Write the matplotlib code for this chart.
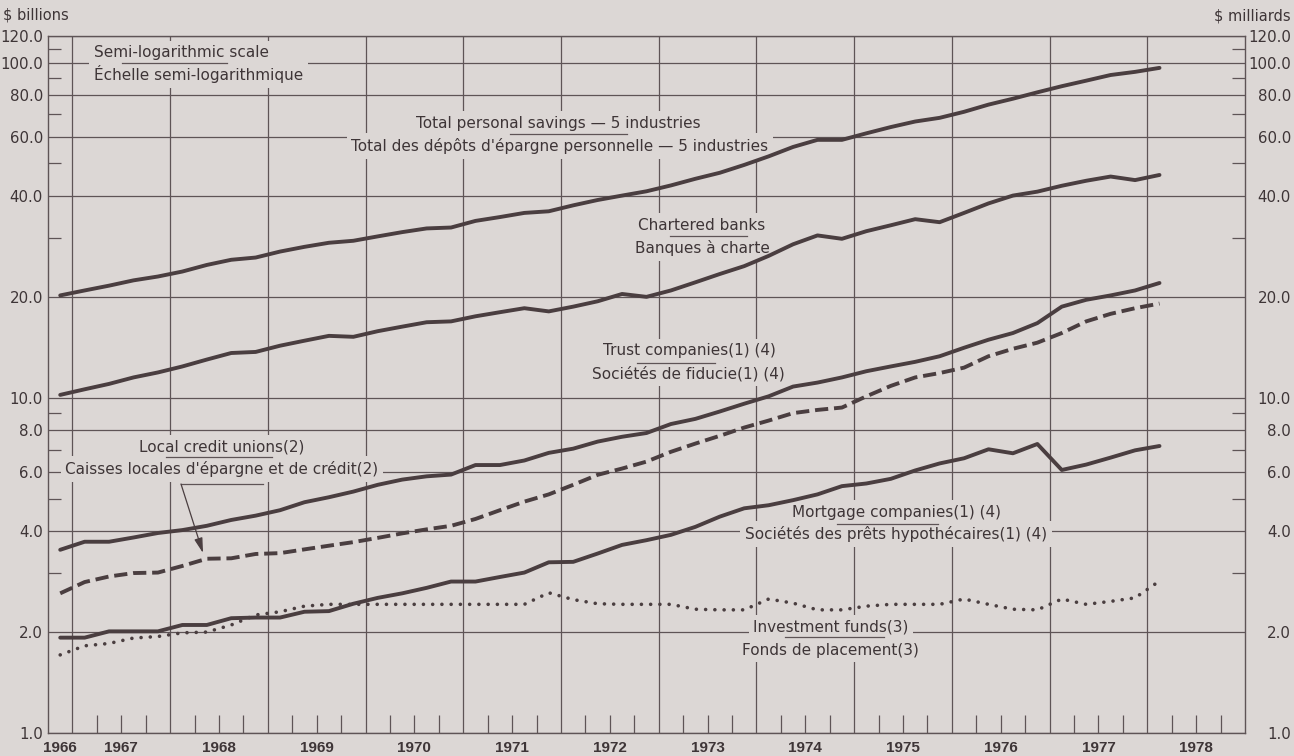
import numpy as np
import matplotlib
matplotlib.use("Agg")
import matplotlib.pyplot as plt
from matplotlib.ticker import FixedLocator, NullFormatter
import matplotlib.transforms as mtransforms

# ---------------- data (quarterly, 1966Q4 .. 1978Q1, $ billions) ----------------
years_q = [(1966, 4)] + [(y, q) for y in range(1967, 1978) for q in (1, 2, 3, 4)] + [(1978, 1)]
quarters = [y + (q - 1) * 0.25 + 0.125 for (y, q) in years_q]

total_savings = [20.2, 20.9, 21.6, 22.4, 23.0, 23.8, 24.9, 25.8, 26.2, 27.3,
                 28.2, 29.0, 29.4, 30.3, 31.2, 32.0, 32.2, 33.7, 34.6, 35.6,
                 36.0, 37.5, 38.9, 40.1, 41.3, 43.0, 45.0, 46.9, 49.5, 52.5,
                 56.0, 58.8, 58.8, 61.5, 64.2, 66.7, 68.4, 71.3, 74.9, 78.0,
                 81.5, 85.0, 88.3, 91.8, 93.8, 96.4]
chartered_banks = [10.2, 10.6, 11.0, 11.5, 11.9, 12.4, 13.0, 13.6, 13.7, 14.3,
                   14.8, 15.3, 15.2, 15.8, 16.3, 16.8, 16.9, 17.5, 18.0, 18.5,
                   18.1, 18.7, 19.4, 20.4, 20.0, 20.9, 22.1, 23.4, 24.7, 26.5,
                   28.7, 30.5, 29.8, 31.4, 32.7, 34.1, 33.4, 35.6, 38.0, 40.1,
                   41.2, 42.9, 44.4, 45.7, 44.6, 46.2]
trust_companies = [3.52, 3.72, 3.72, 3.83, 3.95, 4.03, 4.15, 4.32, 4.45, 4.62,
                   4.88, 5.05, 5.25, 5.5, 5.7, 5.83, 5.9, 6.3, 6.3, 6.5,
                   6.85, 7.05, 7.4, 7.65, 7.85, 8.35, 8.65, 9.1, 9.6, 10.1,
                   10.8, 11.1, 11.5, 12.0, 12.4, 12.8, 13.3, 14.1, 14.9, 15.6,
                   16.7, 18.7, 19.6, 20.2, 20.9, 22.0]
credit_unions = [2.61, 2.82, 2.93, 3.0, 3.01, 3.15, 3.31, 3.32, 3.42, 3.44,
                 3.53, 3.62, 3.71, 3.82, 3.94, 4.05, 4.15, 4.35, 4.62, 4.9,
                 5.15, 5.5, 5.89, 6.15, 6.45, 6.9, 7.3, 7.7, 8.15, 8.55,
                 9.0, 9.2, 9.35, 10.1, 10.85, 11.5, 11.85, 12.3, 13.3, 14.0,
                 14.6, 15.6, 16.9, 17.8, 18.5, 19.1]
mortgage_companies = [1.925, 1.925, 2.01, 2.01, 2.01, 2.1, 2.1, 2.2, 2.21, 2.21,
                      2.3, 2.31, 2.43, 2.53, 2.61, 2.71, 2.83, 2.83, 2.92, 3.01,
                      3.23, 3.24, 3.43, 3.64, 3.76, 3.9, 4.12, 4.42, 4.68, 4.78,
                      4.95, 5.15, 5.45, 5.55, 5.73, 6.07, 6.37, 6.6, 7.02, 6.83,
                      7.28, 6.09, 6.32, 6.63, 6.97, 7.18]
investment_funds = [1.71, 1.82, 1.85, 1.92, 1.94, 1.99, 2.0, 2.1, 2.25, 2.3,
                    2.39, 2.42, 2.42, 2.42, 2.42, 2.42, 2.42, 2.42, 2.42, 2.42,
                    2.62, 2.5, 2.43, 2.42, 2.42, 2.42, 2.34, 2.33, 2.33, 2.51,
                    2.44, 2.33, 2.33, 2.39, 2.42, 2.42, 2.42, 2.51, 2.42, 2.34,
                    2.33, 2.51, 2.42, 2.47, 2.53, 2.84]

ytick_vals = [120, 100, 80, 60, 40, 20, 10, 8, 6, 4, 2, 1]
ytick_labels = ["120.0", "100.0", "80.0", "60.0", "40.0", "20.0", "10.0", "8.0", "6.0", "4.0", "2.0", "1.0"]
yminor_vals = [3, 5, 7, 9, 30, 50, 70, 90, 110]
year_labels = ["1966"] + [str(y) for y in range(1967, 1979)]

# ---------------- style ----------------
BG = "#dcd7d5"
LINE = "#4a3e40"
GRID = "#5e5456"
TXT = "#3e3537"
W, H = 1294, 756
L, R, T, B = 48, 1245, 36, 733
XMIN, XMAX = 1966.75, 1979.0
YMIN, YMAX = 1.0, 120.0

def px_x(px):
    return XMIN + (px - L) / (R - L) * (XMAX - XMIN)

def px_y(py):
    return 10 ** ((B - py) / (B - T) * np.log10(YMAX))

plt.rcParams["font.family"] = ["DejaVu Sans"]

fig = plt.figure(figsize=(W / 100, H / 100), dpi=100, facecolor=BG)
ax = fig.add_axes([L / W, 1 - B / H, (R - L) / W, (B - T) / H])
ax.set_facecolor(BG)
ax.set_yscale("log")
ax.set_xlim(XMIN, XMAX)
ax.set_ylim(YMIN, YMAX)

for sp in ax.spines.values():
    sp.set_color(GRID)
    sp.set_linewidth(1.0)

# y ticks
ax.yaxis.set_major_locator(FixedLocator(ytick_vals))
ax.set_yticklabels(ytick_labels)
ax.yaxis.set_minor_locator(FixedLocator(yminor_vals))
ax.yaxis.set_minor_formatter(NullFormatter())
ax.tick_params(axis="y", which="major", length=0, pad=3.6, labelsize=10.8, labelcolor=TXT)
ax.tick_params(axis="y", which="minor", direction="in", length=9.5, width=0.9, color=GRID)

ax2 = ax.twinx()
ax2.set_yscale("log")
ax2.set_ylim(YMIN, YMAX)
for sp in ax2.spines.values():
    sp.set_visible(False)
ax2.yaxis.set_major_locator(FixedLocator(ytick_vals))
ax2.set_yticklabels(ytick_labels, ha="right")
ax2.yaxis.set_minor_locator(FixedLocator(yminor_vals))
ax2.yaxis.set_minor_formatter(NullFormatter())
ax2.tick_params(axis="y", which="major", length=0, pad=33.0, labelsize=10.8, labelcolor=TXT)
ax2.tick_params(axis="y", which="minor", direction="in", length=9.5, width=0.9, color=GRID)

# x ticks: year boundaries (grid), quarter ticks
ax.xaxis.set_major_locator(FixedLocator(list(range(1967, 1979))))
ax.xaxis.set_major_formatter(NullFormatter())
qt = [y + f for y in range(1967, 1979) for f in (0.25, 0.5, 0.75)]
ax.xaxis.set_minor_locator(FixedLocator(qt))
ax.xaxis.set_minor_formatter(NullFormatter())
ax.tick_params(axis="x", which="major", length=0)
ax.tick_params(axis="x", which="minor", direction="in", length=13, width=0.9, color=GRID)

ax.grid(True, which="major", color=GRID, linewidth=0.9, zorder=0.5)
ax.set_axisbelow(True)

# year labels
trans = mtransforms.blended_transform_factory(ax.transData, ax.transAxes)
label_pos = [1966.875] + [y + 0.5 for y in range(1967, 1979)]
for xp, lab in zip(label_pos, year_labels):
    ax.text(xp, -0.0215, lab, transform=trans, ha="center", va="center",
            fontsize=11, fontweight="bold", family="Liberation Sans", color=TXT)

# data lines
kw = dict(color=LINE, linewidth=2.8, solid_capstyle="round", solid_joinstyle="round", zorder=4)
ax.plot(quarters, total_savings, **kw)
ax.plot(quarters, chartered_banks, **kw)
ax.plot(quarters, trust_companies, **kw)
ax.plot(quarters, mortgage_companies, **kw)
ax.plot(quarters, credit_unions, color=LINE, linewidth=2.8, dashes=(3.4, 1.5),
        dash_capstyle="butt", zorder=4)
ax.plot(quarters, investment_funds, color=LINE, linewidth=2.6, linestyle=(0, (0.01, 2.55)),
        dash_capstyle="round", zorder=4)

# annotation texts (masking grid lines)
def label(px, py, s, ha="center"):
    ax.text(px_x(px), px_y(py), s, ha=ha, va="center", fontsize=11, color=TXT, zorder=3,
            bbox=dict(boxstyle="square,pad=0.3", fc=BG, ec="none"))

label(94, 53, "Semi-logarithmic scale", ha="left")
label(94, 74, "Échelle semi-logarithmique", ha="left")
label(558, 123, "Total personal savings — 5 industries")
label(560, 146, "Total des dépôts d'épargne personnelle — 5 industries")
label(702, 225, "Chartered banks")
label(702, 248, "Banques à charte")
label(689, 351, "Trust companies(1) (4)")
label(688, 374, "Sociétés de fiducie(1) (4)")
label(222, 447, "Local credit unions(2)")
label(222, 469, "Caisses locales d'épargne et de crédit(2)")
label(897, 512, "Mortgage companies(1) (4)")
label(896, 534, "Sociétés des prêts hypothécaires(1) (4)")
label(831, 627, "Investment funds(3)")
label(830, 650, "Fonds de placement(3)")

# separators between English / French labels
for x0, x1, yy in [(122, 227, 63), (510, 627, 134), (670, 747, 236), (637, 715, 363),
                   (166, 272, 457), (837, 938, 524), (785, 884, 637)]:
    ax.plot([px_x(x0), px_x(x1)], [px_y(yy), px_y(yy)], color=GRID, lw=0.9, zorder=3.5)

# arrow to credit unions line
ax.plot([px_x(263), px_x(181)], [px_y(484), px_y(484)], color=GRID, lw=0.9, zorder=3.5)
ax.annotate("", xy=(px_x(203), px_y(553)), xytext=(px_x(181), px_y(484)),
            arrowprops=dict(arrowstyle="-|>,head_length=0.9,head_width=0.25", color=LINE,
                            lw=0.9, shrinkA=0, shrinkB=0), zorder=3.5)

fig.text(3 / W, 1 - 15 / H, "$ billions", ha="left", va="center", fontsize=10.5, color=TXT)
fig.text(1291 / W, 1 - 16 / H, "$ milliards", ha="right", va="center", fontsize=10.5, color=TXT)

fig.savefig("out.png", dpi=100, facecolor=BG)
